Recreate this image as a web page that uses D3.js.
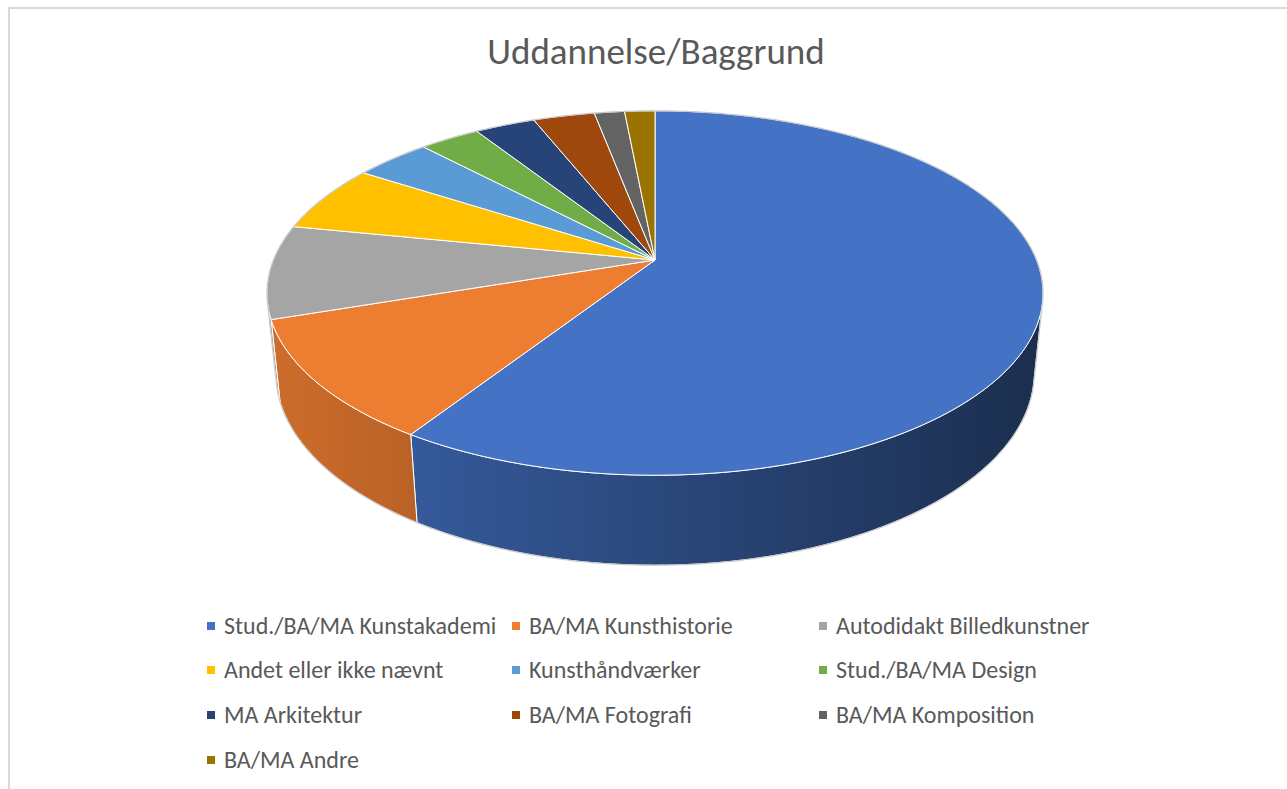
<!DOCTYPE html>
<html>
<head>
<meta charset="utf-8">
<script src="https://cdn.jsdelivr.net/npm/d3@7"></script>
<style>
  body { margin: 0; background: #fff; }
  svg { display: block; }
  text { font-family: Carlito, Calibri, Lato, sans-serif; fill: #595959; }
</style>
</head>
<body>
<div id="chart"></div>
<script>
// data (share of respondents, %)
var categories = ["Stud./BA/MA Kunstakademi", "BA/MA Kunsthistorie", "Autodidakt Billedkunstner",
                  "Andet eller ikke nævnt", "Kunsthåndværker", "Stud./BA/MA Design",
                  "MA Arkitektur", "BA/MA Fotografi", "BA/MA Komposition", "BA/MA Andre"];
var values = [59.1, 10.7, 8.3, 6.0, 3.8, 3.0, 3.0, 3.05, 1.5, 1.5];
var colors = ["#4472C4", "#ED7D31", "#A5A5A5", "#FFC000", "#5B9BD5",
              "#70AD47", "#264478", "#9E480E", "#636363", "#997300"];
var title = "Uddannelse/Baggrund";

var width = 1287, height = 789;

var svg = d3.select("#chart")
  .append("svg")
    .attr("width", width)
    .attr("height", height);

// chart frame (only top and left edges are in view)
svg.append("path")
  .attr("d", "M9," + height + " V8 H" + width)
  .attr("fill", "none")
  .attr("stroke", "#d9d9d9")
  .attr("stroke-width", 2);

svg.append("text")
  .attr("x", 656)
  .attr("y", 64)
  .attr("text-anchor", "middle")
  .style("font-size", "37px")
  .text(title);

// 3d perspective set-up for the pie
var cx = 655, cy = 260;
var tilt = 27.5 * Math.PI / 180,
    dist = 4.895,
    focal = 1868,
    thick = 0.238;

function project(theta, r, yw) {
  var X = r * Math.sin(theta), Z = r * Math.cos(theta);
  var yc = yw * Math.cos(tilt) + Z * Math.sin(tilt);
  var zc = dist + Z * Math.cos(tilt) - yw * Math.sin(tilt);
  return [cx + focal * X / zc, cy - focal * yc / zc];
}

function arcPoints(a0, a1, yw) {
  var n = Math.max(2, Math.ceil(Math.abs(a1 - a0) / 0.01));
  return d3.range(n + 1).map(function(i) { return project(a0 + (a1 - a0) * i / n, 1, yw); });
}

var line = d3.line();

var pie = d3.pie().sort(null).value(function(d) { return d; });
var arcs = pie(values);

// side shading: lighter at the left, darker to the right
var defs = svg.append("defs");
var xLeft = project(-Math.PI / 2 - 0.18, 1, 0)[0], xRight = project(Math.PI / 2 + 0.18, 1, 0)[0];
colors.forEach(function(c, i) {
  var base = d3.rgb(c);
  var g = defs.append("linearGradient")
    .attr("id", "side-" + i)
    .attr("gradientUnits", "userSpaceOnUse")
    .attr("x1", xLeft).attr("y1", 0)
    .attr("x2", xRight).attr("y2", 0);
  [[0, 0.87], [1, 0.40]].forEach(function(s) {
    g.append("stop")
      .attr("offset", s[0])
      .attr("stop-color", d3.rgb(base.r * s[1], base.g * s[1], base.b * s[1]).formatHex());
  });
});

// visible wall range (in front of the silhouette generators)
var visA = Math.acos(-1 / (dist * Math.cos(tilt)));
var vis0 = visA, vis1 = 2 * Math.PI - visA;

var walls = svg.append("g");
arcs.forEach(function(d, i) {
  var a0 = Math.max(d.startAngle, vis0), a1 = Math.min(d.endAngle, vis1);
  if (a1 <= a0) return;
  var pts = arcPoints(a0, a1, 0).concat(arcPoints(a1, a0, -thick));
  walls.append("path")
    .attr("d", line(pts) + "Z")
    .attr("fill", "url(#side-" + i + ")")
    .attr("stroke", "#fff")
    .attr("stroke-width", 1)
    .attr("stroke-linejoin", "round");
});

// top faces
var tops = svg.append("g");
arcs.forEach(function(d, i) {
  var pts = [project(0, 0, 0)].concat(arcPoints(d.startAngle, d.endAngle, 0));
  tops.append("path")
    .attr("d", line(pts) + "Z")
    .attr("fill", colors[i])
    .attr("stroke", "#fff")
    .attr("stroke-width", 1)
    .attr("stroke-linejoin", "round");
});

// outline of the whole solid
var outline = arcPoints(vis1 - 2 * Math.PI, vis0, 0)
  .concat(arcPoints(vis0, vis1, -thick))
  .concat([project(vis1, 1, 0)]);
svg.append("path")
  .attr("d", line(outline))
  .attr("fill", "none")
  .attr("stroke", "#c9c9c9")
  .attr("stroke-width", 1.2);

// legend, three columns
var colX = [207, 512, 819], rowY = [626, 670, 715, 760];
var legend = svg.append("g");
categories.forEach(function(name, i) {
  var x = colX[i % 3], y = rowY[Math.floor(i / 3)];
  legend.append("rect")
    .attr("x", x).attr("y", y - 4)
    .attr("width", 8).attr("height", 8)
    .attr("fill", colors[i]);
  legend.append("text")
    .attr("x", x + 17)
    .attr("y", y)
    .attr("dy", "0.35em")
    .style("font-size", "24px")
    .text(name);
});
</script>
</body>
</html>
